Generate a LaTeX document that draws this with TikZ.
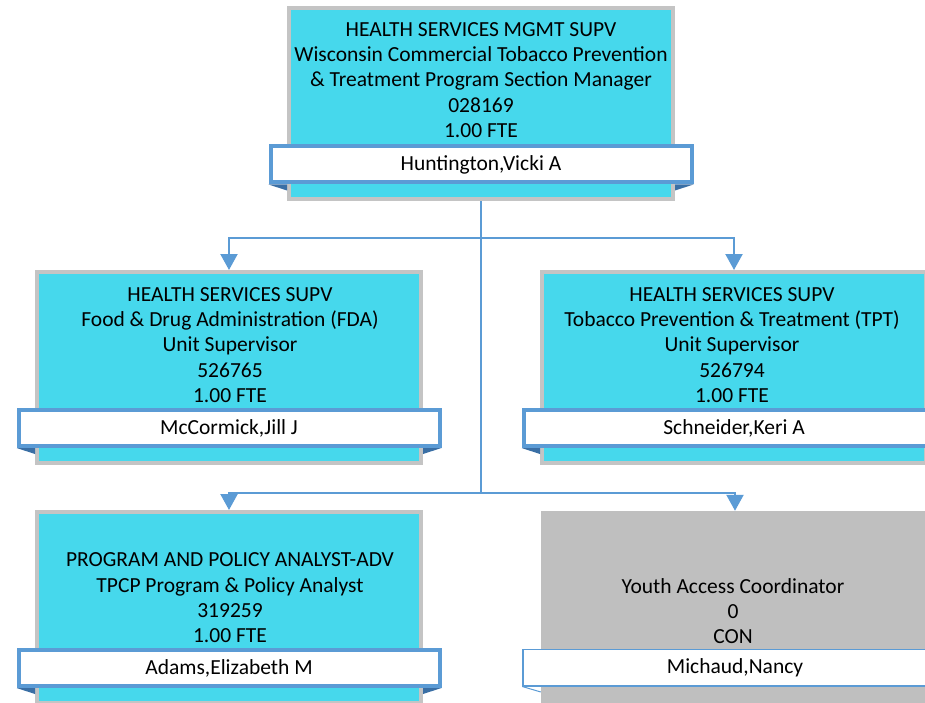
\documentclass[tikz,border=0pt]{standalone}
\usepackage{fontspec}
\setmainfont{Carlito}
\usetikzlibrary{positioning,arrows.meta}
\definecolor{PosCyan}{HTML}{46D8EC}
\definecolor{VacGray}{HTML}{BFBFBF}
\definecolor{EdgeGray}{HTML}{C4C4C4}
\definecolor{LinkBlue}{HTML}{5B9BD5}
\definecolor{FoldBlue}{HTML}{3A6FA5}

\tikzset{
  posbox/.style={draw=EdgeGray, line width=4pt, fill=PosCyan,
    minimum width=384pt, minimum height=191pt, inner sep=0pt},
  vacbox/.style={fill=VacGray, minimum width=388pt, minimum height=195pt, inner sep=0pt},
  jobtext/.style={align=center, inner sep=0pt,
    font=\fontsize{21.5}{25.3}\selectfont},
  namebar/.style={draw=LinkBlue, line width=4pt, fill=white,
    minimum width=421pt, minimum height=36pt, inner sep=0pt,
    font=\fontsize{21.5}{24}\selectfont},
  link/.style={draw=LinkBlue, line width=2.2pt},
  linkarrow/.style={link, -{Triangle[length=16pt, width=17pt]}}
}

\begin{document}
\begin{tikzpicture}[x=1pt, y=-1pt]
  \useasboundingbox (0,0) rectangle (925,703);

  % section manager
  \node[posbox] (mgr) at (481,104) {};
  \node[jobtext] (mgrtext) at (481,80) {HEALTH SERVICES MGMT SUPV\\
    Wisconsin Commercial Tobacco Prevention\\
    \& Treatment Program Section Manager\\
    028169\\
    1.00 FTE};

  % unit supervisors
  \node[posbox] (fda) at (229,367.5) {};
  \node[jobtext] (fdatext) at (230,345) {HEALTH SERVICES SUPV\\
    Food \& Drug Administration (FDA)\\
    Unit Supervisor\\
    526765\\
    1.00 FTE};
  \node[posbox] (tpt) at (734,367.5) {};
  \node[jobtext] (tpttext) at (732,345) {HEALTH SERVICES SUPV\\
    Tobacco Prevention \& Treatment (TPT)\\
    Unit Supervisor\\
    526794\\
    1.00 FTE};

  % analyst and vacancy
  \node[posbox] (analyst) at (229,607.5) {};
  \node[jobtext] (analysttext) at (230,598) {PROGRAM AND POLICY ANALYST-ADV\\
    TPCP Program \& Policy Analyst\\
    319259\\
    1.00 FTE};
  \node[vacbox] (youth) at (735,608.5) {};
  \node[jobtext] (youthtext) at (733,611) {Youth Access Coordinator\\
    0\\
    CON};

  % name bars with folds
  \foreach \pos/\nb/\y/\who in {mgr/mgrbar/164.5/{Huntington,Vicki A},
      fda/fdabar/428/{McCormick,Jill J},
      tpt/tptbar/428/{Schneider,Keri A},
      analyst/analystbar/668/{Adams,Elizabeth M}}{
    \node[namebar] (\nb) at (\pos |- 0,\y) {\who};
    \fill[FoldBlue] (\nb.south west) -- (\pos.west |- \nb.south)
      -- ++(0,6) -- cycle;
    \fill[FoldBlue] (\nb.south east) -- (\pos.east |- \nb.south)
      -- ++(0,6) -- cycle;
  }
  \node[namebar, line width=1.5pt, minimum width=424pt, minimum height=36.5pt]
    (youthbar) at (735,667.5) {Michaud,Nancy};
  \draw[LinkBlue, line width=1pt] (youthbar.south west) -- (youth.west |- 0,692);

  % reporting lines
  \coordinate (split1) at (481,238);
  \coordinate (split2) at (481,493);
  \draw[link] (mgr.south) -- (split2);
  \draw[linkarrow] (split1) -| (fda.north);
  \draw[linkarrow] (split1) -| (tpt.north);
  \draw[linkarrow] (split2) -| (analyst.north);
  \draw[linkarrow] (split2) -| (youth.north);
\end{tikzpicture}
\end{document}
